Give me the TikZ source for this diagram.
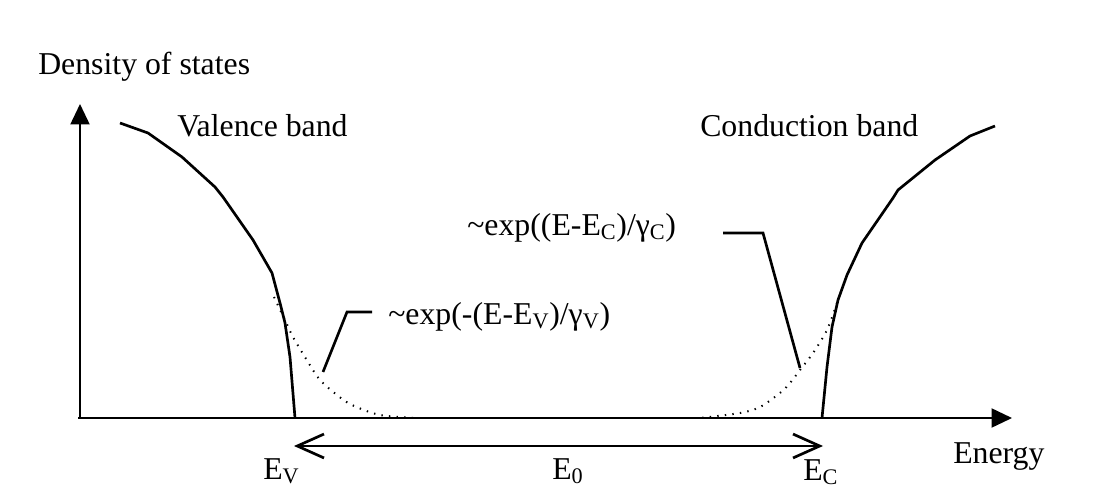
\documentclass[tikz,border=0pt]{standalone}
\usepackage{fontspec}
\setmainfont{Liberation Serif}
\usetikzlibrary{arrows.meta}
\tikzset{
  band/.style={line width=1.9pt, line join=round},
  tail/.style={line width=1.4pt, dash pattern=on 1pt off 4.4pt},
  leader/.style={line width=1.9pt},
  axis/.style={line width=1.4pt, -{Triangle[length=14.5pt,width=13.5pt]}},
  gaparrow/.style={line width=1.9pt, {Straight Barb[length=19pt,width=17pt]}-{Straight Barb[length=19pt,width=17pt]}},
  txt/.style={font=\fontsize{22.6}{26}\selectfont, inner sep=0pt, anchor=base west}
}
\begin{document}
\begin{tikzpicture}[x=0.025cm,y=-0.025cm]
  \useasboundingbox (0,0) rectangle (1096,498);
  \coordinate (O) at (80,418);
  \coordinate (ytip) at (80,104);
  \coordinate (xstart) at (78,418);
  \coordinate (xtip) at (1012,418);
  \coordinate (EV) at (295,418);
  \coordinate (EC) at (822,418);
  \coordinate (gv) at (294,446);
  \coordinate (gc) at (823,446);
  \coordinate (lv) at (323,372);
  \coordinate (lc) at (800,368);
  \draw[axis] (O) -- (ytip);
  \draw[axis] (xstart) -- (xtip);
  \draw[band] (120,123) -- (148,133) -- (182,157) -- (215,187) -- (223,197) -- (253,240)
    -- (272,273) -- (280,303) -- (285,323) -- (290,357) -- (EV);
  \draw[band] (995,126) -- (970,136) -- (935,160) -- (898,190) -- (893,198) -- (862,243)
    -- (847,275) -- (838,300) -- (832,327) -- (827,367) -- (EC);
  \draw[tail] plot[smooth] coordinates {(274,297) (285,320) (293,337) (308,362) (320,380)
    (337,395) (352,405) (380,415) (417,418)};
  \draw[tail] plot[smooth] coordinates {(837,303) (827,330) (813,353) (800,370) (790,383)
    (780,393) (760,407) (740,413) (700,418)};
  \draw[leader] (lv) -- +(24,-60) -- +(49,-60);
  \draw[leader] (lc) -- +(-37,-135) -- +(-77,-135);
  \draw[gaparrow] (gv) -- (gc);
  \node[txt] (dos) at (38,75) {Density of states};
  \node[txt] (vb) at (177,137) {Valence band};
  \node[txt] (cb) at (700,137) {Conduction band};
  \node[txt] (tc) at (467,235) {\textasciitilde exp((E-E\textsubscript{C})/γ\textsubscript{C})};
  \node[txt] (tv) at (388,324) {\textasciitilde exp(-(E-E\textsubscript{V})/γ\textsubscript{V})};
  \node[txt] (ev) at (263,479) {E\textsubscript{V}};
  \node[txt] (e0) at (552,479) {E\textsubscript{0}};
  \node[txt] (ec) at (803,480) {E\textsubscript{C}};
  \node[txt] (en) at (953,463) {Energy};
\end{tikzpicture}
\end{document}
